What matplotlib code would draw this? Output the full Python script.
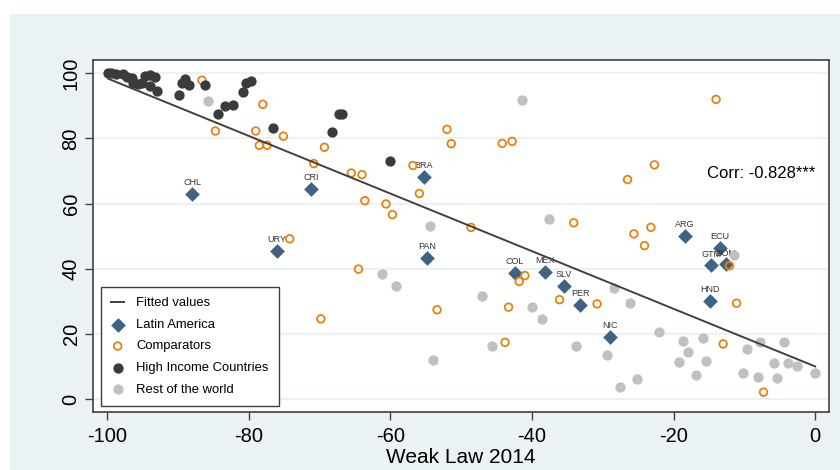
import numpy as np
import matplotlib.pyplot as plt
from matplotlib.patches import Rectangle

plt.rcParams['font.family'] = ['Liberation Sans', 'DejaVu Sans']
plt.rcParams['axes.unicode_minus'] = False

# Latin America (labelled diamonds)
lat_names = ["CHL", "CRI", "URY", "BRA", "PAN", "COL", "MEX", "SLV", "PER",
             "NIC", "ARG", "ECU", "GTM", "DOM", "HND"]
lat_x = [-88.0, -71.2, -76.0, -55.3, -54.8, -42.4, -38.1, -35.5, -33.2,
         -29.0, -18.4, -13.4, -14.7, -12.6, -14.9]
lat_y = [63.1, 64.5, 45.5, 68.2, 43.3, 38.7, 38.9, 34.8, 28.9,
         19.0, 50.2, 46.4, 41.0, 41.3, 30.2]

# Comparators
comp_x = [-86.6, -78.0, -84.7, -79.0, -78.5, -77.4, -75.1, -69.3, -70.8, -65.5,
          -64.0, -52.0, -51.4, -44.2, -42.8, -56.8, -55.9, -63.6, -60.6, -59.7,
          -48.6, -34.1, -64.5, -53.4, -43.3, -41.8, -41.0, -36.1, -43.8, -74.2,
          -69.8, -14.0, -22.7, -26.5, -23.2, -25.6, -24.1, -12.1, -11.1, -30.8,
          -13.0, -7.3]
comp_y = [97.9, 90.5, 82.3, 82.3, 77.9, 77.9, 80.7, 77.3, 72.3, 69.4,
          68.9, 82.8, 78.4, 78.5, 79.1, 71.7, 63.1, 60.9, 59.9, 56.6,
          52.7, 54.1, 39.9, 27.4, 28.2, 36.1, 37.9, 30.5, 17.4, 49.2,
          24.6, 92.0, 71.9, 67.4, 52.7, 50.7, 47.1, 40.9, 29.4, 29.2,
          16.9, 2.1]

# High income countries
high_x = [-99.8, -99.4, -98.7, -97.7, -97.2, -96.5, -96.3, -95.6, -95.1, -94.6,
          -93.9, -93.2, -93.9, -92.9, -89.9, -89.4, -89.0, -88.4, -86.2, -84.3,
          -83.3, -82.2, -80.8, -80.4, -79.7, -76.5, -68.3, -67.3, -66.8, -60.1]
high_y = [100.0, 100.0, 99.7, 99.7, 99.0, 98.7, 97.1, 96.6, 97.1, 99.2,
          99.4, 99.0, 96.1, 94.6, 93.5, 96.9, 98.4, 96.3, 96.3, 87.4,
          89.9, 90.2, 94.3, 97.1, 97.6, 83.1, 81.9, 87.4, 87.4, 73.0]

# Rest of the world
rest_x = [-85.7, -41.4, -54.4, -61.2, -59.2, -47.1, -40.0, -38.6, -37.6, -53.9,
          -45.6, -33.8, -11.5, -28.4, -26.1, -22.1, -29.4, -27.5, -25.1, -18.7,
          -17.9, -19.3, -16.9, -15.9, -15.4, -9.6, -10.2, -7.8, -8.1, -5.8,
          -5.4, -4.4, -3.9, -2.5, 0.0]
rest_y = [91.5, 91.8, 53.0, 38.4, 34.8, 31.5, 28.1, 24.5, 55.3, 12.0,
          16.3, 16.3, 44.3, 34.1, 29.4, 20.5, 13.5, 3.8, 6.1, 17.8,
          14.4, 11.5, 7.3, 18.7, 11.6, 15.5, 7.9, 17.6, 6.6, 11.1,
          6.5, 17.4, 11.1, 10.0, 8.1]

corr_text = "Corr: -0.828***"

bg = '#EAF2F3'
fig = plt.figure(figsize=(8.4, 4.7), dpi=100, facecolor='white')
fig.patches.append(Rectangle((10 / 840, 0), 1, 1 - 14 / 470, transform=fig.transFigure,
                             facecolor=bg, edgecolor='none', zorder=-10))

ax = fig.add_axes([93 / 840, 1 - 412 / 470, 736 / 840, 352 / 470])
ax.set_zorder(1)
ax.set_facecolor('white')

# linear fit over all points
all_x = np.array(lat_x + comp_x + high_x + rest_x)
all_y = np.array(lat_y + comp_y + high_y + rest_y)
b, a = np.polyfit(all_x, all_y, 1)
fx = np.array([all_x.min(), all_x.max()])

ax.scatter(lat_x, lat_y, marker='D', s=56, color='#3E6383', linewidths=0, zorder=3,
           label='Latin America')
for n, x, y in zip(lat_names, lat_x, lat_y):
    ax.annotate(n, (x, y), xytext=(0, 5), textcoords='offset points', ha='center',
                va='bottom', fontsize=6.5, color='#333333', zorder=3)
ax.scatter(comp_x, comp_y, marker='o', s=30, facecolors='none', edgecolors='#E8820E',
           linewidths=1.3, zorder=4, label='Comparators')
ax.scatter(high_x, high_y, marker='o', s=55, color='#3B3B3B', linewidths=0, zorder=5,
           label='High Income Countries')
ax.scatter(rest_x, rest_y, marker='o', s=55, color='#C0C0C0', linewidths=0, zorder=6,
           label='Rest of the world')
line, = ax.plot(fx, a + b * fx, color='#404040', lw=1.4, zorder=7, label='Fitted values')

ax.text(0, 69.1, corr_text, ha='right', va='center', fontsize=12, color='black')

ax.set_xlim(-101.98, 1.95)
ax.set_ylim(-4.0, 104.1)
ax.set_xticks([-100, -80, -60, -40, -20, 0])
ax.set_yticks([0, 20, 40, 60, 80, 100])
ax.set_yticklabels(['0', '20', '40', '60', '80', '100'], rotation=90, va='center')
ax.tick_params(labelsize=14.5, length=6, width=1, color='#404040', pad=5)
ax.tick_params(axis='y', pad=3)
ax.grid(axis='y', color=bg, lw=1.6, zorder=0)
ax.set_axisbelow(True)
for s in ax.spines.values():
    s.set_color('#404040')
    s.set_linewidth(1.2)
ax.set_xlabel('Weak Law 2014', fontsize=15, labelpad=1)

h, l = ax.get_legend_handles_labels()
order = [4, 0, 1, 2, 3]
leg = ax.legend([h[i] for i in order], [l[i] for i in order], loc='lower left',
                bbox_to_anchor=(0.0105, 0.017), borderaxespad=0, fontsize=9.4,
                fancybox=False, framealpha=1, edgecolor='#404040', handlelength=1.0,
                handletextpad=0.9, labelspacing=0.72, borderpad=0.8)
leg.get_frame().set_linewidth(1.0)
leg.set_zorder(10)

fig.savefig('out.png', dpi=100, facecolor='white')
